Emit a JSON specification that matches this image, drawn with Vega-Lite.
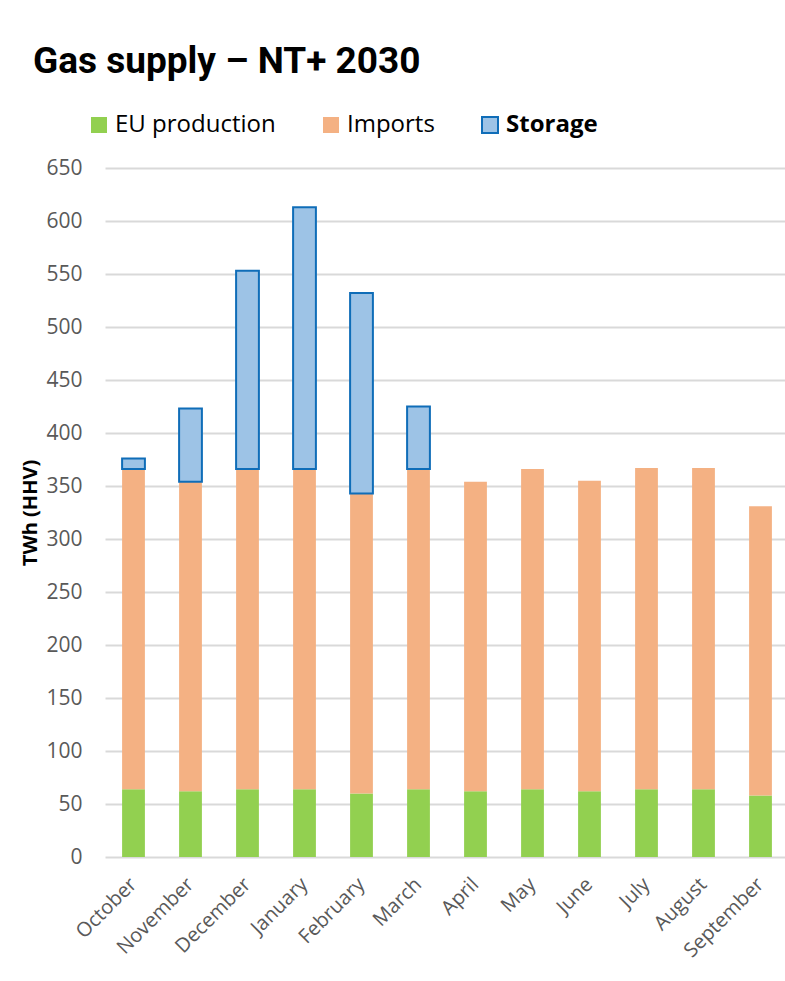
{
  "$schema": "https://vega.github.io/schema/vega-lite/v6.json",
  "autosize": "none",
  "width": 684,
  "height": 689,
  "padding": {"left": 105, "top": 168, "right": 0, "bottom": 124},
  "background": "white",
  "title": {
    "text": "Gas supply – NT+ 2030",
    "anchor": "start",
    "frame": "group",
    "font": "Roboto",
    "fontSize": 37,
    "fontWeight": "bold",
    "color": "#000000",
    "dx": -72,
    "offset": 32
  },
  "data": {
    "values": [
      {"month": "October", "series": "EU production", "twh": 64},
      {"month": "October", "series": "Imports", "twh": 302},
      {"month": "October", "series": "Storage", "twh": 10},
      {"month": "November", "series": "EU production", "twh": 62},
      {"month": "November", "series": "Imports", "twh": 292},
      {"month": "November", "series": "Storage", "twh": 69},
      {"month": "December", "series": "EU production", "twh": 64},
      {"month": "December", "series": "Imports", "twh": 302},
      {"month": "December", "series": "Storage", "twh": 187},
      {"month": "January", "series": "EU production", "twh": 64},
      {"month": "January", "series": "Imports", "twh": 302},
      {"month": "January", "series": "Storage", "twh": 247},
      {"month": "February", "series": "EU production", "twh": 60},
      {"month": "February", "series": "Imports", "twh": 283},
      {"month": "February", "series": "Storage", "twh": 189},
      {"month": "March", "series": "EU production", "twh": 64},
      {"month": "March", "series": "Imports", "twh": 302},
      {"month": "March", "series": "Storage", "twh": 59},
      {"month": "April", "series": "EU production", "twh": 62},
      {"month": "April", "series": "Imports", "twh": 292},
      {"month": "May", "series": "EU production", "twh": 64},
      {"month": "May", "series": "Imports", "twh": 302},
      {"month": "June", "series": "EU production", "twh": 62},
      {"month": "June", "series": "Imports", "twh": 293},
      {"month": "July", "series": "EU production", "twh": 64},
      {"month": "July", "series": "Imports", "twh": 303},
      {"month": "August", "series": "EU production", "twh": 64},
      {"month": "August", "series": "Imports", "twh": 303},
      {"month": "September", "series": "EU production", "twh": 58},
      {"month": "September", "series": "Imports", "twh": 273}
    ]
  },
  "mark": {"type": "bar", "strokeWidth": 2},
  "encoding": {
    "x": {
      "field": "month",
      "type": "nominal",
      "sort": ["October","November","December","January","February","March","April","May","June","July","August","September"],
      "scale": {"paddingInner": 0.6, "paddingOuter": 0.3},
      "axis": {
        "title": null,
        "labelAngle": -45,
        "labelAlign": "right",
        "labelBaseline": "middle",
        "labelFont": "Open Sans",
        "labelFontSize": 20,
        "labelColor": "#595959",
        "labelPadding": 24,
        "ticks": false,
        "domain": false
      }
    },
    "y": {
      "field": "twh",
      "type": "quantitative",
      "aggregate": "sum",
      "stack": "zero",
      "scale": {"domain": [0, 650], "nice": false},
      "axis": {
        "title": "TWh (HHV)",
        "titleFont": "Open Sans",
        "titleFontSize": 20,
        "titleFontWeight": "bold",
        "titleColor": "#000000",
        "titlePadding": 5,
        "values": [0,50,100,150,200,250,300,350,400,450,500,550,600,650],
        "labelFont": "Open Sans",
        "labelFontSize": 21,
        "labelColor": "#595959",
        "labelPadding": 23,
        "ticks": false,
        "domain": false,
        "grid": true,
        "gridColor": "#D9D9D9",
        "gridWidth": 2
      }
    },
    "color": {
      "field": "series",
      "type": "nominal",
      "scale": {
        "domain": ["EU production", "Imports", "Storage"],
        "range": ["#92D050", "#F4B183", "#9DC3E6"]
      },
      "legend": {
        "title": null,
        "orient": "none",
        "direction": "horizontal",
        "legendX": -18,
        "legendY": -55,
        "padding": 0,
        "symbolType": "square",
        "symbolSize": 256,
        "symbolStrokeWidth": 2,
        "labelFont": "Open Sans",
        "labelFontSize": 24,
        "labelColor": "#000000",
        "labelOffset": 4,
        "columnPadding": 43,
        "labelLimit": 300,
        "encode": {
          "labels": {"update": {"fontWeight": {"signal": "datum.label === 'Storage' ? 'bold' : 'normal'"}}}
        }
      }
    },
    "stroke": {
      "field": "series",
      "type": "nominal",
      "scale": {
        "domain": ["EU production", "Imports", "Storage"],
        "range": ["rgba(0,0,0,0)", "rgba(0,0,0,0)", "#0F6DB8"]
      },
      "legend": {
        "title": null,
        "orient": "none",
        "direction": "horizontal",
        "legendX": -18,
        "legendY": -55,
        "padding": 0,
        "symbolType": "square",
        "symbolSize": 256,
        "symbolStrokeWidth": 2,
        "labelFont": "Open Sans",
        "labelFontSize": 24,
        "labelColor": "#000000",
        "labelOffset": 4,
        "columnPadding": 43,
        "labelLimit": 300,
        "encode": {
          "labels": {"update": {"fontWeight": {"signal": "datum.label === 'Storage' ? 'bold' : 'normal'"}}}
        }
      }
    },
    "order": {"field": "series", "sort": "ascending"}
  },
  "config": {
    "view": {"stroke": null}
  }
}
